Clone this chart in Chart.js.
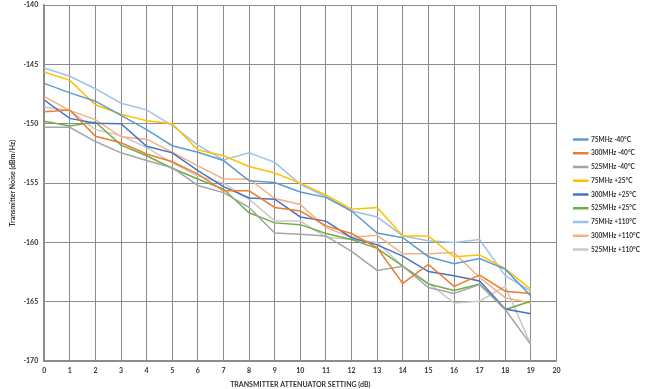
<!DOCTYPE html>
<html>
<head>
<meta charset="utf-8">
<script src="https://cdn.jsdelivr.net/npm/chart.js@4.4.1/dist/chart.umd.min.js"></script>
<style>
  html, body { margin: 0; padding: 0; background: #fff; }
  #wrap { width: 650px; height: 389px; position: relative; }
</style>
</head>
<body>
<div id="wrap"><canvas id="c" width="650" height="389"></canvas></div>
<script>
// Attenuator settings (dB)
const attenSettings = [0,1,2,3,4,5,6,7,8,9,10,11,12,13,14,15,16,17,18,19];

const seriesNames = [
  '75MHz -40°C', '300MHz -40°C', '525MHz -40°C',
  '75MHz +25°C', '300MHz +25°C', '525MHz +25°C',
  '75MHz +110°C', '300MHz +110°C', '525MHz +110°C'
];
const seriesColors = [
  '#5B9BD5', '#ED7D31', '#A5A5A5',
  '#FFC000', '#4472C4', '#70AD47',
  '#9DC3E6', '#F4B183', '#C9C9C9'
];

// Transmitter noise (dBm/Hz)
const n75m40   = [-146.6,-147.4,-148.1,-149.3,-150.5,-151.85,-152.4,-153.1,-154.8,-154.95,-155.75,-156.2,-157.35,-159.2,-159.6,-161.2,-161.8,-161.35,-162.25,-164.5];
const n300m40  = [-149.0,-148.85,-151.05,-151.6,-152.55,-153.2,-154.25,-155.65,-155.65,-157.05,-157.35,-158.6,-159.25,-160.45,-163.45,-161.85,-163.7,-162.75,-164.1,-164.3];
const n525m40  = [-150.3,-150.3,-151.5,-152.45,-153.1,-153.7,-155.2,-155.8,-157.05,-159.2,-159.3,-159.45,-160.75,-162.35,-162.0,-163.8,-164.3,-163.55,-165.65,-168.6];
const n75p25   = [-145.65,-146.35,-148.4,-149.2,-149.75,-150.0,-152.2,-152.7,-153.6,-154.15,-155.0,-156.0,-157.2,-157.05,-159.45,-159.45,-161.2,-161.05,-162.2,-163.95];
const n300p25  = [-148.0,-149.55,-149.95,-150.0,-151.9,-152.45,-153.95,-155.3,-156.25,-156.35,-157.85,-158.2,-159.6,-160.2,-161.15,-162.45,-162.8,-163.25,-165.6,-166.0];
const n525p25  = [-149.8,-150.2,-149.85,-151.8,-152.7,-153.75,-154.65,-155.5,-157.5,-158.35,-158.5,-159.25,-159.75,-160.5,-162.0,-163.5,-164.05,-163.5,-165.65,-164.95];
const n75p110  = [-145.3,-146.0,-147.05,-148.27,-148.83,-150.15,-151.8,-153.05,-152.45,-153.25,-155.1,-156.15,-157.35,-157.85,-159.45,-159.85,-160.0,-159.75,-162.8,-164.1];
const n300p110 = [-147.7,-148.9,-149.65,-151.1,-151.3,-152.4,-153.55,-154.65,-154.65,-156.3,-156.8,-158.75,-159.55,-159.4,-160.95,-160.95,-160.85,-162.95,-164.65,-165.1];
const n525p110 = [-148.6,-148.9,-150.5,-151.0,-152.0,-153.3,-154.4,-155.0,-156.35,-158.2,-158.2,-159.55,-159.75,-160.0,-162.0,-163.4,-165.1,-164.95,-163.7,-168.6];

const seriesValues = [n75m40, n300m40, n525m40, n75p25, n300p25, n525p25, n75p110, n300p110, n525p110];

const yMin = -170, yMax = -140, yStep = 5;
const xMin = 0, xMax = 20, xStep = 1;

const FONT = 'Lato, "Open Sans", "Liberation Sans", sans-serif';

const datasets = seriesValues.map((vals, i) => ({
  label: seriesNames[i],
  data: vals.map((v, j) => ({ x: attenSettings[j], y: v })),
  borderColor: seriesColors[i],
  backgroundColor: seriesColors[i],
  borderWidth: 1.5,
  pointRadius: 0,
  tension: 0,
  fill: false
}));

// Small layout spacer between the plot area and the legend
const legendGap = {
  id: 'legendGap',
  beforeInit(chart) {
    const box = {
      position: 'right',
      weight: 500,
      fullSize: false,
      options: {},
      isHorizontal() { return false; },
      update(maxWidth, maxHeight) { this.width = 10; this.height = maxHeight; },
      draw() {}
    };
    Chart.layouts.addBox(chart, box);
  }
};

new Chart(document.getElementById('c'), {
  type: 'line',
  data: { datasets },
  plugins: [legendGap],
  options: {
    responsive: false,
    animation: false,
    devicePixelRatio: 1,
    layout: { padding: { top: 0, right: 0, bottom: 0, left: 9 } },
    plugins: {
      tooltip: { enabled: false },
      legend: {
        position: 'right',
        align: 'center',
        labels: {
          boxWidth: 14,
          boxHeight: 1,
          padding: 7.25,
          color: '#333',
          font: { family: FONT, size: 6.5, weight: 'bold' }
        }
      }
    },
    scales: {
      x: {
        type: 'linear',
        min: xMin, max: xMax,
        ticks: { stepSize: xStep, color: '#333', padding: 5, maxRotation: 0,
                 font: { family: FONT, size: 7, weight: 'bold' } },
        grid: { color: '#8c8c8c', lineWidth: 1, drawTicks: false },
        border: { color: '#8c8c8c', width: 1.5 },
        title: { display: true, text: 'TRANSMITTER ATTENUATOR SETTING (dB)', color: '#333',
                 padding: { top: 1, bottom: 0 },
                 font: { family: FONT, size: 7, weight: 'bold' } }
      },
      y: {
        min: yMin, max: yMax,
        afterFit(scale) { scale.paddingTop = 5; },
        ticks: { stepSize: yStep, color: '#333', padding: 6,
                 font: { family: FONT, size: 7, weight: 'bold' } },
        grid: { color: '#8c8c8c', lineWidth: 1, drawTicks: false },
        border: { color: '#8c8c8c', width: 1.5 },
        title: { display: true, text: 'Transmitter Noise (dBm/Hz)', color: '#333',
                 padding: { top: 0, bottom: 0 },
                 font: { family: FONT, size: 7, weight: 'bold' } }
      }
    }
  }
});
</script>
</body>
</html>
